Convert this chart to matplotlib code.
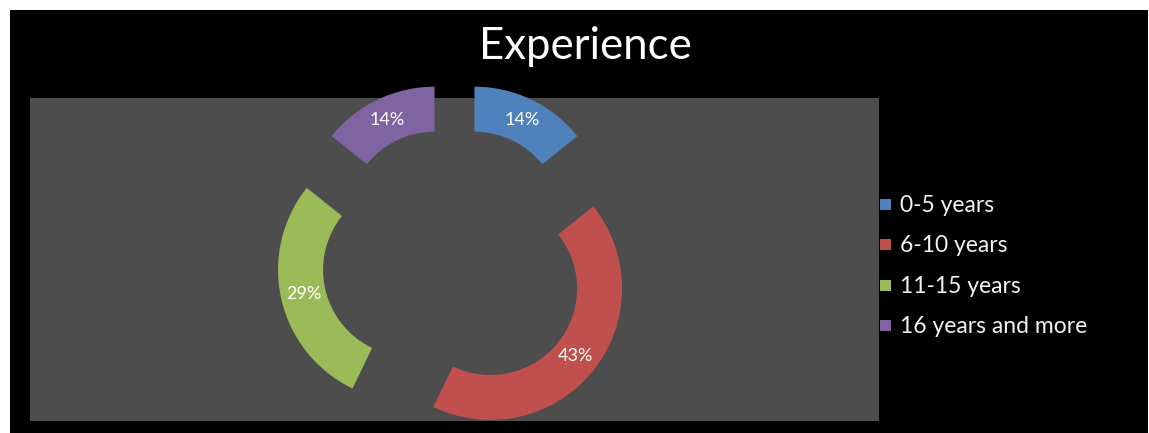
import matplotlib.pyplot as plt
from matplotlib.patches import Rectangle

# data
labels = ['0-5 years', '6-10 years', '11-15 years', '16 years and more']
shares = [1, 3, 2, 1]   # shown as 14%, 43%, 29%, 14%
colors = ['#4F81BD', '#C0504D', '#9BBB59', '#8064A2']
title = 'Experience'

plt.rcParams['font.family'] = ['Lato', 'DejaVu Sans']

W, H = 1149, 433
fig = plt.figure(figsize=(W / 100, H / 100), dpi=100, facecolor='white')
ax = fig.add_axes([0, 0, 1, 1])

# black chart area and grey plot area
ax.add_patch(Rectangle((10, 0), W - 11, H - 10, facecolor='black', edgecolor='none', zorder=0))
ax.add_patch(Rectangle((30, H - 421), 849, 323, facecolor='#4D4D4D', edgecolor='none', zorder=1))

# exploded doughnut
R = 131.6
wedges, texts, autotexts = ax.pie(
    shares, colors=colors, startangle=90, counterclock=False,
    center=(454.5, H - 259.7), radius=R, explode=[46] * len(shares),
    wedgeprops=dict(width=45, edgecolor='none', zorder=2),
    autopct='%.0f%%', pctdistance=109 / R, frame=True,
    textprops=dict(color='white', fontsize=13))
for t in autotexts:
    t.set_zorder(3)
ax.set_xlim(0, W)
ax.set_ylim(0, H)
ax.set_aspect('auto')
ax.axis('off')

# title
ax.text(585, H - 59, title, color='white', fontsize=31.5, ha='center', va='baseline', zorder=3)

# legend
for i, (lab, col) in enumerate(zip(labels, colors)):
    yb = H - (212 + i * 40.3)
    ax.add_patch(Rectangle((880, yb + 2), 11, 11, facecolor=col, edgecolor='none', zorder=3))
    ax.text(900, yb, lab, color='#F2F2F2', fontsize=16.5, ha='left', va='baseline', zorder=3)

plt.savefig('out.png', dpi=100, facecolor=fig.get_facecolor())
